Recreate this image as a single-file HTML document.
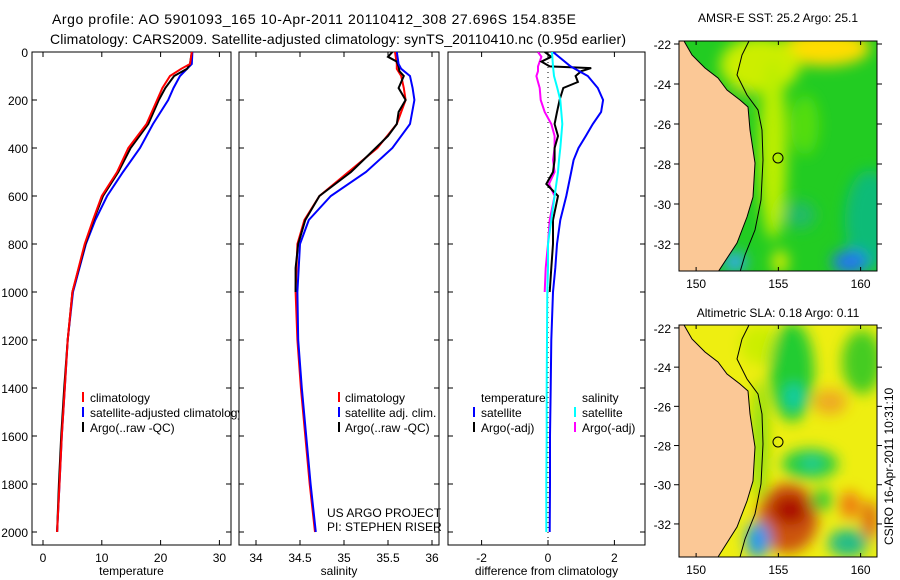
<!DOCTYPE html>
<html><head><meta charset="utf-8"><style>
body{margin:0;background:#fff}
svg{display:block;font-family:"Liberation Sans",sans-serif}
</style></head><body>
<svg id="fig" width="900" height="580" viewBox="0 0 900 580" xmlns="http://www.w3.org/2000/svg">
<defs>
<clipPath id="c1"><rect x="32" y="52" width="199" height="493"/></clipPath>
<clipPath id="c1l"><rect x="32" y="380" width="207" height="60"/></clipPath>
<clipPath id="c2"><rect x="239" y="52" width="200" height="493"/></clipPath>
<clipPath id="c3"><rect x="448" y="52" width="197" height="493"/></clipPath>
<clipPath id="m1"><rect x="679" y="41" width="198" height="230"/></clipPath>
<clipPath id="m2"><rect x="679" y="325" width="198" height="232"/></clipPath>
<filter id="bl" x="-50%" y="-50%" width="200%" height="200%"><feGaussianBlur stdDeviation="7"/></filter>
</defs>
<text x="52" y="24" font-size="14" textLength="524">Argo profile: AO 5901093_165 10-Apr-2011 20110412_308 27.696S 154.835E</text>
<text x="50" y="44" font-size="14" textLength="576">Climatology: CARS2009. Satellite-adjusted climatology: synTS_20110410.nc (0.95d earlier)</text>

<g id="p1"></g>
<g id="p2"></g>
<g id="p3"></g>

<g font-size="12" clip-path="url(#c1l)">
<rect x="82" y="392" width="2" height="10" fill="#f00"/><text x="90" y="402">climatology</text>
<rect x="82" y="407" width="2" height="10" fill="#00f"/><text x="90" y="417">satellite-adjusted climatology</text>
<rect x="82" y="422" width="2" height="10" fill="#000"/><text x="90" y="432">Argo(..raw -QC)</text>
</g>
<g font-size="12">
<rect x="338" y="392" width="2" height="10" fill="#f00"/><text x="345" y="402">climatology</text>
<rect x="338" y="407" width="2" height="10" fill="#00f"/><text x="345" y="417">satellite adj. clim.</text>
<rect x="338" y="422" width="2" height="10" fill="#000"/><text x="345" y="432">Argo(..raw -QC)</text>
<text x="327" y="517">US ARGO PROJECT</text>
<text x="327" y="531">PI: STEPHEN RISER</text>
</g>
<g font-size="12">
<text x="481" y="402">temperature</text><text x="582" y="402">salinity</text>
<rect x="473" y="407" width="2" height="10" fill="#00f"/><text x="481" y="417">satellite</text>
<rect x="473" y="422" width="2" height="10" fill="#000"/><text x="481" y="432">Argo(-adj)</text>
<rect x="574" y="407" width="2" height="10" fill="#0ff"/><text x="582" y="417">satellite</text>
<rect x="574" y="422" width="2" height="10" fill="#f0f"/><text x="582" y="432">Argo(-adj)</text>
</g>

<g>
<text x="778" y="22" font-size="12" text-anchor="middle">AMSR-E SST: 25.2 Argo: 25.1</text>
<g clip-path="url(#m1)">
<rect x="679" y="41" width="198" height="230" fill="#22cc22"/>
<g filter="url(#bl)">
<ellipse cx="825" cy="48" rx="45" ry="18" fill="#ffdd00"/>
<ellipse cx="760" cy="65" rx="40" ry="28" fill="#ccee00"/>
<ellipse cx="773" cy="150" rx="14" ry="90" fill="#bbee00"/>
<ellipse cx="740" cy="100" rx="12" ry="12" fill="#22cc22"/>
<ellipse cx="805" cy="125" rx="14" ry="30" fill="#55dd11"/>
<ellipse cx="870" cy="220" rx="25" ry="50" fill="#11bb77"/>
<ellipse cx="800" cy="215" rx="16" ry="14" fill="#22bb66"/>
<ellipse cx="850" cy="262" rx="18" ry="12" fill="#2277ee"/>
<ellipse cx="735" cy="262" rx="12" ry="10" fill="#33aaee"/>
<ellipse cx="780" cy="262" rx="8" ry="12" fill="#ddee00"/>
</g>
<polygon points="679,41 684,41 692,55 705,68 718,78 727,90 740,100 748,107 750,130 755,163 753,197 747,217 737,243 718,272 679,272" fill="#fbc896" stroke="#000" stroke-width="1"/>
<polyline points="749,41 742,55 737,75 747,95 758,110 762,130 763,160 761,200 755,230 745,255 740,272" fill="none" stroke="#000" stroke-width="1"/>
<circle cx="778" cy="158" r="5" fill="none" stroke="#000"/>
</g>
<rect x="679" y="41" width="198" height="230" fill="none" stroke="#000"/>
<g id="m1ax" font-size="12"></g>
</g>

<g>
<text x="778" y="317" font-size="12" text-anchor="middle">Altimetric SLA: 0.18 Argo: 0.11</text>
<g clip-path="url(#m2)">
<rect x="679" y="325" width="198" height="232" fill="#eeee11"/>
<g filter="url(#bl)">
<ellipse cx="760" cy="345" rx="20" ry="20" fill="#ccee00"/>
<ellipse cx="792" cy="372" rx="22" ry="50" fill="#22cc33"/>
<ellipse cx="794" cy="397" rx="9" ry="13" fill="#11ccaa"/>
<ellipse cx="862" cy="362" rx="20" ry="32" fill="#44cc22"/>
<ellipse cx="830" cy="402" rx="17" ry="13" fill="#eeaa22"/>
<ellipse cx="810" cy="464" rx="28" ry="15" fill="#22cc44"/>
<ellipse cx="812" cy="463" rx="9" ry="6" fill="#22ccaa"/>
<ellipse cx="788" cy="518" rx="30" ry="35" fill="#cc5511"/>
<ellipse cx="790" cy="510" rx="18" ry="15" fill="#aa1100"/>
<ellipse cx="822" cy="500" rx="11" ry="11" fill="#33cc33"/>
<ellipse cx="850" cy="505" rx="10" ry="14" fill="#ee7711"/>
<ellipse cx="848" cy="543" rx="20" ry="14" fill="#22bb88"/>
<ellipse cx="758" cy="540" rx="12" ry="18" fill="#2299ee"/>
<ellipse cx="870" cy="520" rx="8" ry="20" fill="#dd6611"/>
<ellipse cx="760" cy="440" rx="8" ry="60" fill="#88dd11"/>
</g>
<polygon points="679,325 684,325 692,339 705,352 718,362 727,374 740,384 748,391 750,414 755,447 753,481 747,501 737,527 718,557 679,557" fill="#fbc896" stroke="#000" stroke-width="1"/>
<polyline points="749,325 742,339 737,359 747,379 758,394 762,414 763,444 761,484 755,514 745,539 740,557" fill="none" stroke="#000" stroke-width="1"/>
<circle cx="778" cy="442" r="5" fill="none" stroke="#000"/>
</g>
<rect x="679" y="325" width="198" height="232" fill="none" stroke="#000"/>
<g id="m2ax" font-size="12"></g>
</g>
<text x="0" y="0" font-size="12" transform="translate(893,545) rotate(-90)">CSIRO 16-Apr-2011 10:31:10</text>

<script>
const depthsT = [0,50,70,100,150,200,300,400,500,600,700,800,1000,1200,1400,1600,1800,2000];
const climTemp = [25.3,25.0,23.5,21.6,20.3,19.4,17.6,14.5,12.6,10.0,8.5,7.1,5.0,4.2,3.7,3.2,2.8,2.4];
const satTemp  = [25.4,25.3,24.5,23.3,22.2,21.3,18.7,16.5,13.6,10.9,8.9,7.3,5.1,4.2,3.7,3.2,2.8,2.4];
const argoTemp = [25.3,25.0,24.5,22.3,20.8,19.7,17.9,14.9,12.8,10.2,8.6,7.2,5.0,4.2,3.6,3.1,2.7,2.4];
const climSal = [35.58,35.6,35.6,35.65,35.68,35.7,35.6,35.38,35.05,34.72,34.55,34.47,34.45,34.47,34.51,34.56,34.61,34.67];
const satSal  = [35.6,35.62,35.65,35.75,35.78,35.8,35.75,35.55,35.25,34.85,34.6,34.5,34.47,34.48,34.52,34.57,34.62,34.68];
const depthsA = [0,20,40,60,80,100,125,150,175,200,250,300,350,400,450,500,550,600,700,800,900,1000];
const argoSal = [35.55,35.5,35.6,35.62,35.63,35.68,35.65,35.62,35.66,35.7,35.62,35.6,35.5,35.36,35.22,35.08,34.9,34.72,34.56,34.48,34.45,34.45];
const depthsD = [0,60,100,150,200,250,300,350,400,450,500,600,700,800,900,1000,1200,1400,1600,1800,2000];
const diffTSat = [0.15,0.68,1.2,1.5,1.66,1.6,1.35,1.14,0.92,0.77,0.7,0.55,0.37,0.27,0.22,0.15,0.1,0.08,0.06,0.06,0.05];
const diffSSat = [0.12,0.15,0.18,0.28,0.37,0.4,0.43,0.4,0.37,0.33,0.3,0.2,0.1,0.0,0.0,-0.02,-0.03,-0.04,-0.04,-0.05,-0.05];
const depthsDA = [0,20,40,60,67,80,100,125,150,200,250,300,350,400,450,500,550,600,700,800,900,1000];
const diffTArgo = [-0.1,0.1,-0.2,0.05,1.3,1.0,0.83,0.9,0.46,0.35,0.27,0.2,0.3,0.2,0.2,0.15,-0.05,0.3,0.15,0.15,0.1,0.05];
const diffSArgo = [-0.3,-0.2,-0.25,-0.3,-0.3,-0.3,-0.35,-0.3,-0.25,-0.22,-0.1,0.1,0.2,0.2,0.15,0.2,0.03,0.2,0.05,0.0,-0.07,-0.1];
const depthTicks = [0,200,400,600,800,1000,1200,1400,1600,1800,2000];
const tempTicks = [0,10,20,30];
const salTicks = [34,34.5,35,35.5,36];
const salTickLabels = ["34","34.5","35","35.5","36"];
const diffTicks = [-2,0,2];
const lonTicks = [150,155,160];
const latTicks = [-22,-24,-26,-28,-30,-32];

const NS='http://www.w3.org/2000/svg';
function mk(tag,attrs,parent){const e=document.createElementNS(NS,tag);for(const k in attrs)e.setAttribute(k,attrs[k]);parent.appendChild(e);return e;}
const yD = d => 52 + d*0.24;
const xT = v => 43 + v*5.88;
const xS = v => 344 + (v-35)*88;
const xDf = v => 548 + v*33.2;

function panel(g, x0, x1, xs, ticks, labels, xlabel, showY){
  const top=52, bot=545;
  const r=mk('rect',{x:x0,y:top,width:x1-x0,height:bot-top,fill:'none',stroke:'#000'},g);
  
  
  ticks.forEach((t,i)=>{
    const x=xs(t);
    mk('line',{x1:x,x2:x,y1:bot,y2:bot-5,stroke:'#000'},g);
    mk('line',{x1:x,x2:x,y1:top,y2:top+5,stroke:'#000'},g);
    const tx=mk('text',{x:x,y:bot+17,'font-size':12,'text-anchor':'middle'},g);
    tx.textContent=labels[i];
    
    
  });
  depthTicks.forEach(d=>{
    const y=yD(d);
    mk('line',{x1:x0,x2:x0+5,y1:y,y2:y,stroke:'#000'},g);
    mk('line',{x1:x1,x2:x1-5,y1:y,y2:y,stroke:'#000'},g);
    if(showY){const tx=mk('text',{x:28,y:y+5,'font-size':12,'text-anchor':'end'},g);tx.textContent=String(d);
      
      }
  });
  const xl=mk('text',{x:(x0+x1)/2,y:575,'font-size':12,'text-anchor':'middle'},g);
  xl.textContent=xlabel;
  
  
}
function line(g, xs, vals, depths, color, name, clip, w){
  const pts=vals.map((v,i)=>xs(v).toFixed(1)+','+yD(depths[i]).toFixed(1)).join(' ');
  const p=mk('polyline',{points:pts,fill:'none',stroke:color,'stroke-width':w||2,'clip-path':'url(#'+clip+')'},g);
  
  
}
const p1=document.getElementById('p1'),p2=document.getElementById('p2'),p3=document.getElementById('p3');
panel(p1,32,231,xT,tempTicks,tempTicks.map(String),'temperature',true);
line(p1,xT,satTemp,depthsT,'#0000ff','temp-satellite-line','c1');
line(p1,xT,argoTemp,depthsT,'#000000','temp-argo-line','c1');
line(p1,xT,climTemp,depthsT,'#ff0000','temp-climatology-line','c1');
panel(p2,239,439,xS,salTicks,salTickLabels,'salinity',false);
line(p2,xS,climSal,depthsT,'#ff0000','salinity-climatology-line','c2');
line(p2,xS,argoSal,depthsA,'#000000','salinity-argo-line','c2');
line(p2,xS,satSal,depthsT,'#0000ff','salinity-satellite-line','c2');
panel(p3,448,645,xDf,diffTicks,diffTicks.map(String),'difference from climatology',false);
const zl=mk('line',{x1:xDf(0),x2:xDf(0),y1:52,y2:545,stroke:'#000','stroke-dasharray':'1,4'},p3);


line(p3,xDf,diffSArgo,depthsDA,'#ff00ff','salinity-argo-diff-line','c3');
line(p3,xDf,diffTArgo,depthsDA,'#000000','temp-argo-diff-line','c3');
line(p3,xDf,diffTSat,depthsD,'#0000ff','temp-satellite-diff-line','c3');
line(p3,xDf,diffSSat,depthsD,'#00ffff','salinity-satellite-diff-line','c3');

function mapAxes(id, top, bottom, latTop, latPerPx){
  const g=document.getElementById(id);
  const xL = lon => 679 + (lon-148.96)*16.45;
  lonTicks.forEach(l=>{const x=xL(l);
    mk('line',{x1:x,x2:x,y1:bottom,y2:bottom-4,stroke:'#000'},g);
    mk('line',{x1:x,x2:x,y1:top,y2:top+4,stroke:'#000'},g);
    const t=mk('text',{x:x,y:bottom+17,'text-anchor':'middle'},g);t.textContent=String(l);
    
    });
  latTicks.forEach(l=>{const y=top+(latTop-l)*latPerPx;
    mk('line',{x1:877,x2:882,y1:y,y2:y,stroke:'#000'},g);
    mk('line',{x1:674,x2:679,y1:y,y2:y,stroke:'#000'},g);
    const t=mk('text',{x:671,y:y+5,'text-anchor':'end'},g);t.textContent=String(l);
    
    });
}
mapAxes('m1ax',41,271,-21.85,20);
mapAxes('m2ax',325,557,-21.85,19.6);
</script>
</svg>
</body></html>
